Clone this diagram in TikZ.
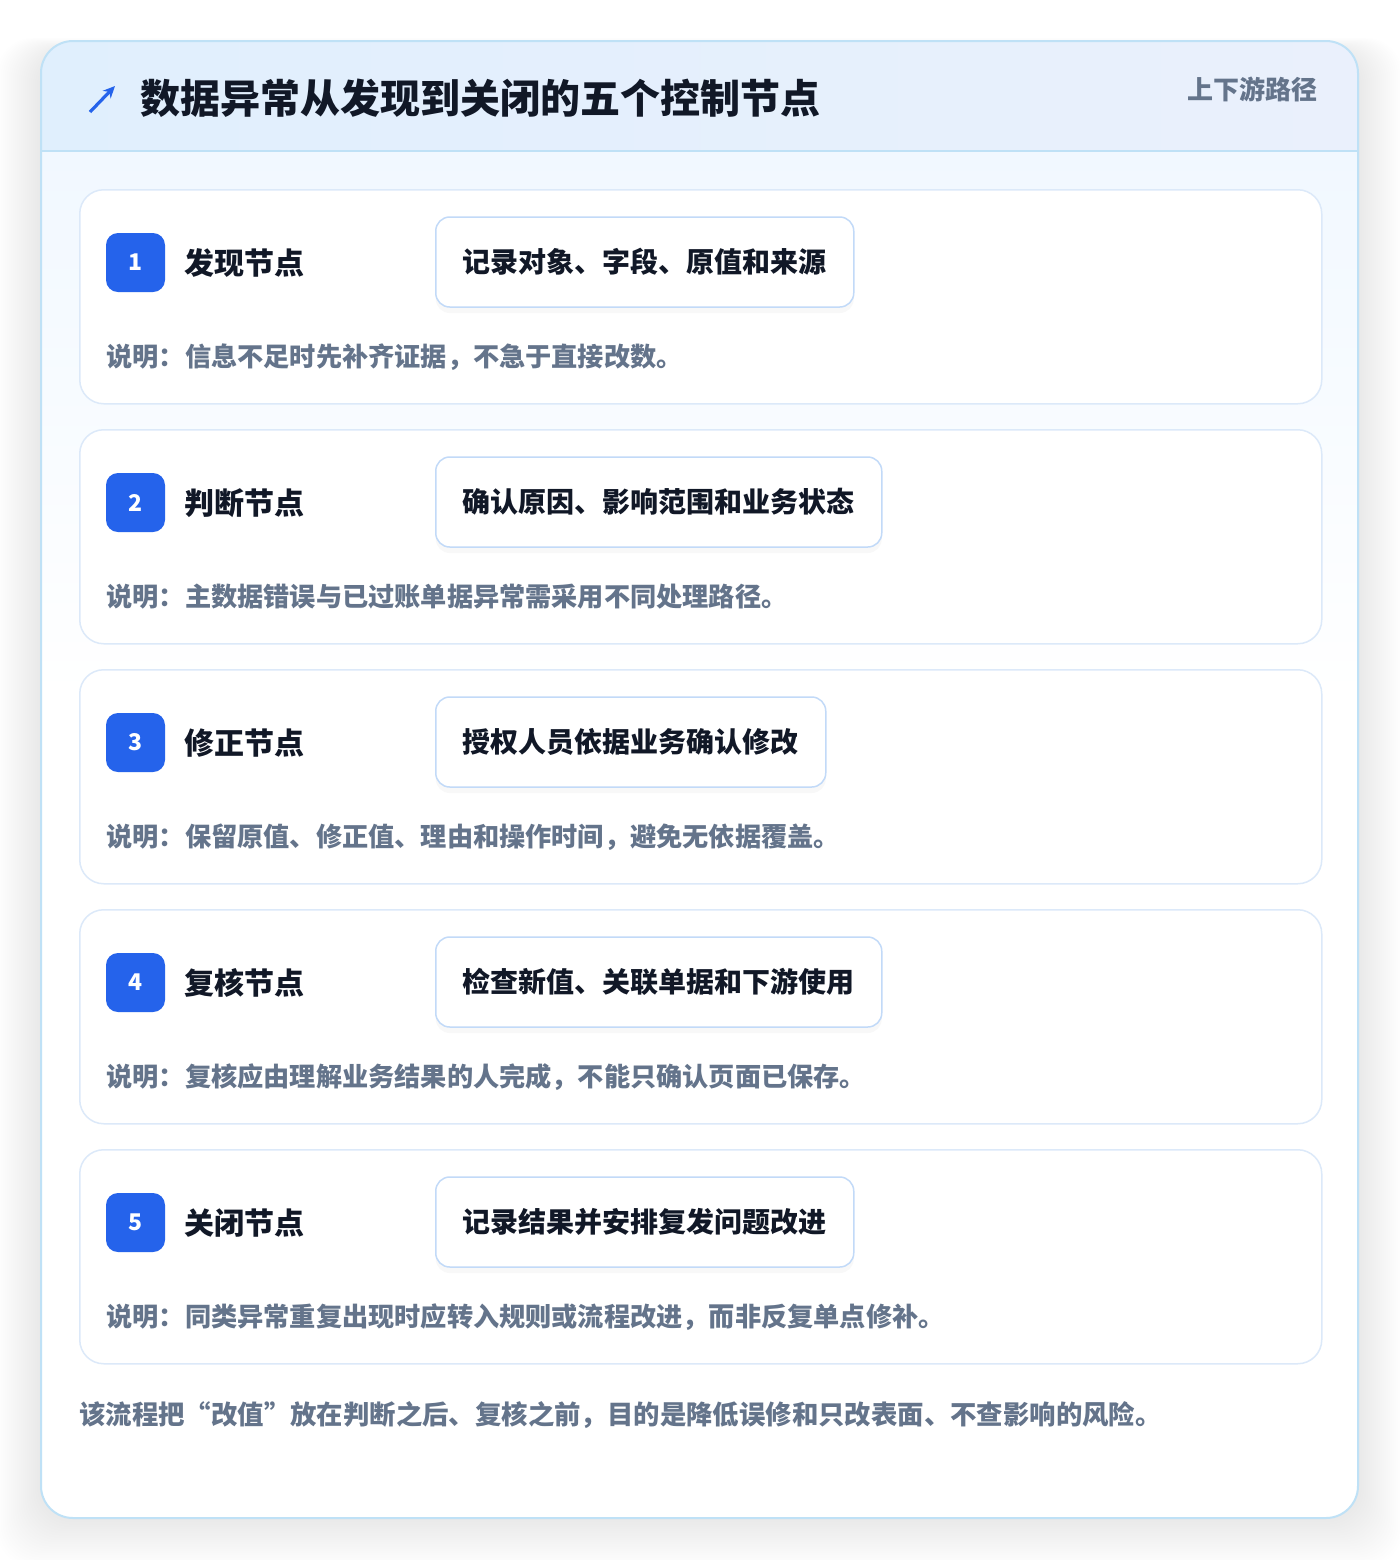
\documentclass[tikz,border=0pt]{standalone}
\usepackage{fontspec}
\setmainfont{Noto Sans CJK SC}
\usetikzlibrary{arrows.meta,shadows}
\definecolor{outline}{HTML}{BFE1F6}
\definecolor{cardline}{HTML}{DCE9F9}
\definecolor{boxline}{HTML}{C2DAF8}
\definecolor{badgeblue}{HTML}{2563EB}
\definecolor{ink}{HTML}{111827}
\definecolor{muted}{HTML}{64748B}
\definecolor{headL}{HTML}{E0EFFD}
\definecolor{headR}{HTML}{EAF0FC}
\definecolor{bodytop}{HTML}{F1F8FF}
\tikzset{
  card/.style={draw=cardline, line width=0.75pt, fill=white, rounded corners=12pt,
    minimum width=621pt, minimum height=107pt, anchor=north west, inner sep=0pt},
  badge/.style={fill=badgeblue, rounded corners=6pt, minimum size=29.5pt, inner sep=0pt,
    text=white, font=\bfseries\fontsize{11.5}{13}\selectfont},
  steplabel/.style={anchor=west, inner sep=0pt, text=ink, font=\bfseries\fontsize{15}{18}\selectfont},
  stepbox/.style={anchor=west, draw=boxline, line width=0.75pt, fill=white, rounded corners=7pt,
    minimum height=45pt, inner xsep=13.5pt, inner ysep=0pt, text=ink,
    font=\bfseries\fontsize{14}{17}\selectfont,
    drop shadow={opacity=0.05, shadow xshift=0pt, shadow yshift=-3pt}},
  note/.style={anchor=west, inner sep=0pt, text=muted, font=\bfseries\fontsize{13.1}{15}\selectfont},
}
\begin{document}
\begin{tikzpicture}[x=0.5pt,y=-0.5pt]
\useasboundingbox (0,0) rectangle (1400,1560);
\fill[white] (0,0) rectangle (1400,1560);
% outer shadow (soft)
\foreach \k in {1,...,22}{
  \fill[black, opacity=0.0045, rounded corners=18pt]
    (41-\k*2, 41-\k*0.6+10) rectangle (1358+\k*2, 1518+\k*2.2);
}
% outer card
\fill[white, rounded corners=16pt] (41,41) rectangle (1358,1518);
\begin{scope}
  \clip[rounded corners=16pt] (41,41) rectangle (1358,1518);
  \shade[top color=bodytop, bottom color=white] (41,151) rectangle (1358,700);
  \shade[left color=headL, right color=headR] (41,41) rectangle (1358,151);
\end{scope}
\draw[outline, line width=0.6pt] (41,151) -- (1358,151);
\draw[outline, line width=1pt, rounded corners=16pt] (41,41) rectangle (1358,1518);
% header
\coordinate (arrT) at (90,112);
\coordinate (arrH) at (115,86);
\draw[badgeblue, line width=1.6pt, -{Stealth[length=6pt,width=5.5pt]}] (arrT) -- (arrH);
\node[anchor=west, inner sep=0pt, text=ink, font=\bfseries\fontsize{20}{24}\selectfont] (title) at (140,98) {数据异常从发现到关闭的五个控制节点};
\node[anchor=east, inner sep=0pt, text=muted, font=\bfseries\fontsize{13}{16}\selectfont] (tag) at (1318,89) {上下游路径};
% cards
\foreach \i/\lab/\bx/\nt in {
  1/发现节点/记录对象、字段、原值和来源/说明：信息不足时先补齐证据，不急于直接改数。,
  2/判断节点/确认原因、影响范围和业务状态/说明：主数据错误与已过账单据异常需采用不同处理路径。,
  3/修正节点/授权人员依据业务确认修改/说明：保留原值、修正值、理由和操作时间，避免无依据覆盖。,
  4/复核节点/检查新值、关联单据和下游使用/说明：复核应由理解业务结果的人完成，不能只确认页面已保存。,
  5/关闭节点/记录结果并安排复发问题改进/说明：同类异常重复出现时应转入规则或流程改进，而非反复单点修补。}{
  \pgfmathsetmacro{\top}{189+240*(\i-1)}
  \node[card] (card\i) at (79,\top) {};
  \node[badge] (badge\i) at (135.5,\top+73.5) {\i};
  \node[steplabel] (label\i) at (184,\top+74) {\lab};
  \node[stepbox] (box\i) at (435,\top+73) {\bx};
  \node[note] (note\i) at (106,\top+168) {\nt};
}
% footer
\node[anchor=west, inner sep=0pt, text=muted, font=\bfseries\fontsize{13.2}{16}\selectfont] (foot) at (79,1415) {该流程把“改值”放在判断之后、复核之前，目的是降低误修和只改表面、不查影响的风险。};
\end{tikzpicture}
\end{document}
